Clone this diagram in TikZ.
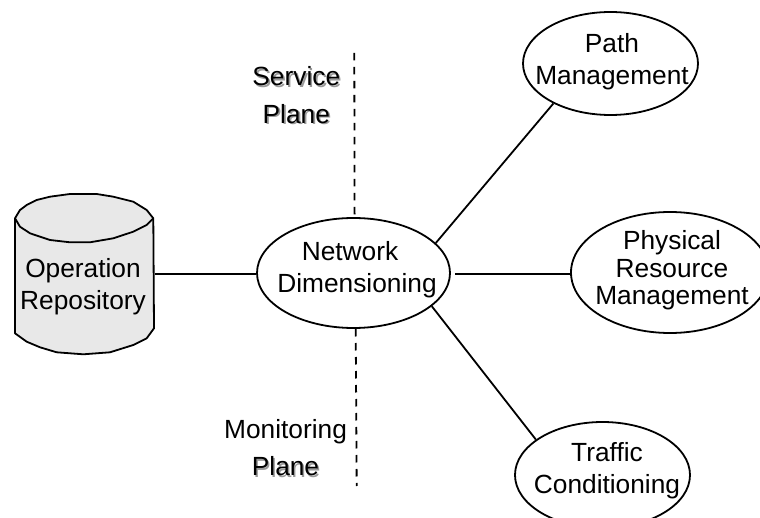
\documentclass[tikz,border=0pt]{standalone}
\usepackage{fontspec}
\setmainfont{Liberation Sans}
\usetikzlibrary{shapes.geometric}
\definecolor{cylfill}{HTML}{E8E8E8}
\tikzset{
  x=1pt,y=-1pt,
  oval/.style={draw,fill=white,ellipse,line width=1.8pt,inner sep=0pt},
  conn/.style={line width=1.8pt},
  planeline/.style={line width=1.8pt,dash pattern=on 7.5pt off 6.5pt},
  lab/.style={inner sep=0pt,align=center,anchor=base},
  two/.style={lab,font=\fontsize{26.3}{32}\selectfont},
  tight/.style={lab,font=\fontsize{26.3}{27.5}\selectfont},
  wide/.style={lab,font=\fontsize{26.3}{37.5}\selectfont},
  shade/.style={text=black!40},
}
\begin{document}
\begin{tikzpicture}
\useasboundingbox (0,0) rectangle (760,518);
\coordinate (a1) at (354.3,53);
\coordinate (a2) at (354.6,216);
\coordinate (b1) at (355.7,329);
\coordinate (b2) at (356.7,486);
\draw[planeline] (a1) -- (a2);
\draw[planeline] (b1) -- (b2);
\draw[line width=1.8pt,fill=cylfill,line join=round]
  (15,218.3) -- (15,333.3) -- (26.7,341.7) -- (40,347.3) -- (56.7,352.3) -- (83.3,354.3) -- (110,352.3) -- (133.3,345) -- (146.7,338.3) -- (154,328.3) -- (153.3,218.3)
  -- (146.7,210) -- (133.3,201.7) -- (113.3,196.7) -- (96.7,194) -- (70,194) -- (50,196.7) -- (36.7,200) -- (26.7,205) -- (20,210) -- cycle;
\draw[line width=1.8pt,line join=round]
  (15,218.3) -- (20,226.7) -- (30,233.3) -- (50,240) -- (70,242.3) -- (90,242.3) -- (113.3,238.3) -- (133.3,231.7) -- (146.7,225) -- (153.3,218.3);
\node[two] (or) at (83,310) {Operation\\Repository};
\node[oval,minimum width=193pt,minimum height=110pt] (nd) at (353.5,273) {};
\node[oval,minimum width=175pt,minimum height=103pt] (pm) at (610.5,63.5) {};
\node[oval,minimum width=198pt,minimum height=121pt] (pr) at (670,272.5) {};
\node[oval,minimum width=175pt,minimum height=106pt] (tc) at (602.5,475) {};
\node[two] (ndt) at (357,293) {Network\hspace*{14pt}\\Dimensioning};
\node[two] (pmt) at (612,85) {Path\\Management};
\node[tight] (prt) at (672,305) {Physical\\Resource\\Management};
\node[two] (tct) at (607,493) {Traffic\\Conditioning};
\coordinate (or-e) at (155,274);
\draw[conn] (or-e) -- (nd.west |- or-e);
\draw[conn] (nd.20) -- (pm.-145.5);
\coordinate (nd-g) at (455,274);
\draw[conn] (nd-g) -- (pr.west |- nd-g);
\draw[conn] (nd.-23) -- (tc.152.6);
\node[wide,shade] (sps) at (298,125) {Service\\Plane};
\node[wide] (sp) at (296.3,123.3) {Service\\Plane};
\node[wide,shade] (mps) at (287,477) {\phantom{Monitoring}\\Plane};
\node[wide] (mp) at (285.5,475.6) {Monitoring\\Plane};
\end{tikzpicture}
\end{document}
